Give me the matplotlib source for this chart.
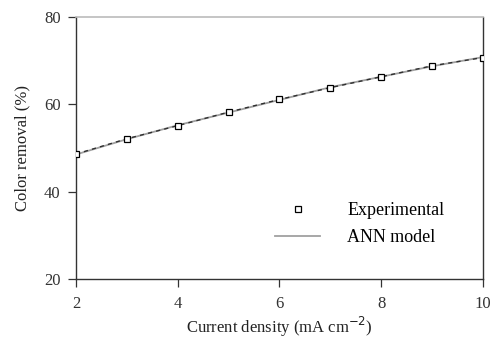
import numpy as np
import matplotlib.pyplot as plt

plt.rcParams['font.family'] = ['Liberation Serif', 'DejaVu Serif']

current = np.array([2, 3, 4, 5, 6, 7, 8, 9, 10])
removal_exp = np.array([48.6, 52.1, 55.1, 58.2, 61.1, 63.8, 66.3, 68.8, 70.7])
removal_ann = np.array([48.5, 52.0, 55.2, 58.1, 61.0, 63.9, 66.3, 68.7, 70.8])
xticks = [2, 4, 6, 8, 10]
yticks = [20, 40, 60, 80]

fig = plt.figure(figsize=(4.94, 3.38), dpi=100)
ax = fig.add_axes([0.1538, 0.1746, 0.8239, 0.7754])

ax.plot(current, removal_ann, color='#a0a0a0', lw=1.3, label='ANN model', zorder=2)
ax.plot(current, removal_exp, color='#303030', lw=1.0, ls=(0, (3, 3)), zorder=3)
ax.plot(current, removal_exp, ls='none', marker='s', ms=4.5, mfc='white', mec='black',
        mew=0.9, label='Experimental', zorder=4)

ax.set_xlim(2, 10)
ax.set_ylim(20, 80)
ax.set_xticks(xticks)
ax.set_yticks(yticks)
ax.tick_params(direction='out', length=6, width=0.9, labelsize=12, colors='#333333')
ax.tick_params(axis='x', pad=6)
ax.tick_params(axis='y', pad=5)
for s in ['left', 'bottom', 'right']:
    ax.spines[s].set_color('#333333')
    ax.spines[s].set_linewidth(1.0)
ax.spines['top'].set_color('#bbbbbb')
ax.spines['top'].set_linewidth(1.2)

ax.set_xlabel('Current density (mA cm$^{-2}$)', fontsize=12, color='#222222', labelpad=2)
ax.set_ylabel('Color removal (%)', fontsize=12, color='#222222', labelpad=10)

h, l = ax.get_legend_handles_labels()
ax.legend([h[1], h[0]], [l[1], l[0]], frameon=False, fontsize=13,
          loc='center left', bbox_to_anchor=(0.449, 0.21), handlelength=2.5,
          handletextpad=1.5, labelspacing=0.55)

fig.savefig('out.png', dpi=100)
